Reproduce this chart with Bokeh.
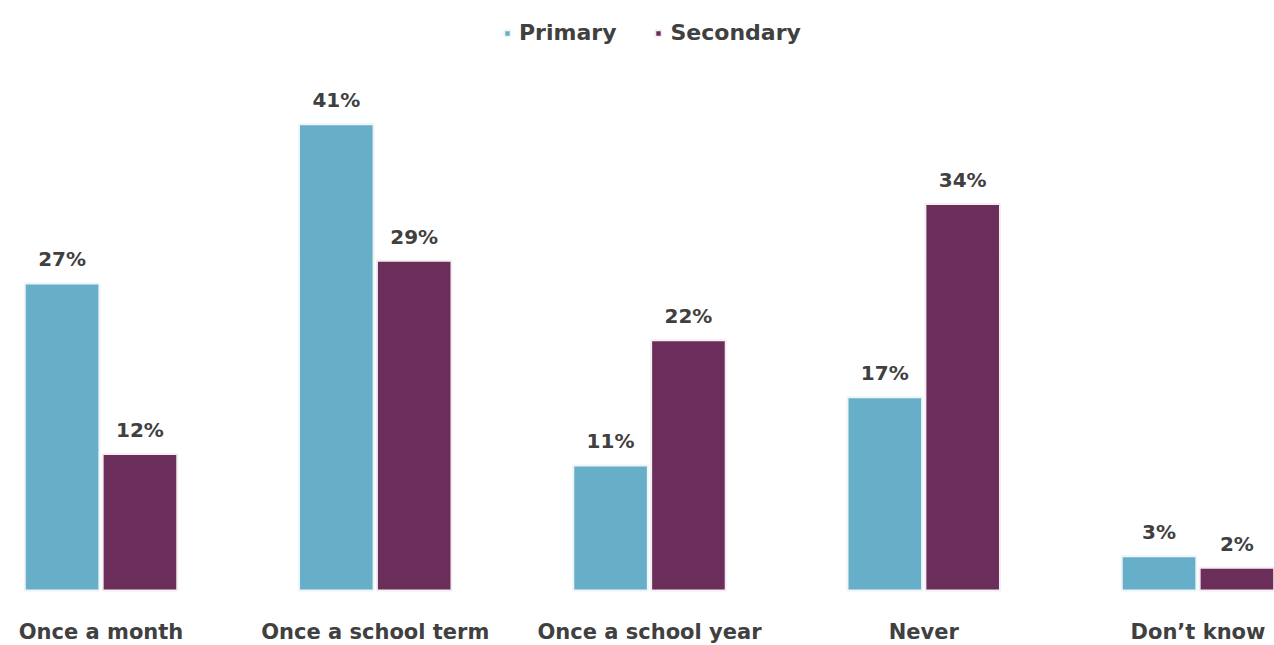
from bokeh.plotting import figure
from bokeh.models import ColumnDataSource, Legend, LegendItem, Range1d
from bokeh.core.properties import value
from bokeh.embed import file_html
from bokeh.resources import INLINE

categories = ["Once a month", "Once a school term", "Once a school year", "Never", "Don\u2019t know"]
primary = [27, 41, 11, 17, 3]
secondary = [12, 29, 22, 34, 2]
series_names = ["Primary", "Secondary"]
colors = ["#67AFC9", "#6B2E5B"]

W, H = 1274, 645
FONT = "DejaVu Sans"
TEXT_COLOR = "#404040"

xs = list(range(len(categories)))
off = 0.142
bw = 0.272

p = figure(width=W, height=H, output_backend="svg", toolbar_location=None,
           x_range=Range1d(-0.3665, 4.279), y_range=Range1d(-4.84, 51.89),
           min_border_left=0, min_border_right=0, min_border_top=0, min_border_bottom=0)
p.outline_line_color = None
p.grid.visible = False
p.axis.visible = False
p.background_fill_color = "white"
p.border_fill_color = "white"

src_p = ColumnDataSource(dict(x=[x - off for x in xs], top=primary,
                              lab=[f"{v}%" for v in primary]))
src_s = ColumnDataSource(dict(x=[x + off for x in xs], top=secondary,
                              lab=[f"{v}%" for v in secondary]))
src_c = ColumnDataSource(dict(x=xs, y=[0] * len(xs), lab=categories))

r1 = p.vbar(x="x", top="top", width=bw, source=src_p, fill_color=colors[0],
            line_color="#eef4f7", line_width=2)
r2 = p.vbar(x="x", top="top", width=bw, source=src_s, fill_color=colors[1],
            line_color="#f3eef2", line_width=2)

for src in (src_p, src_s):
    p.text(x="x", y="top", text="lab", source=src, text_align="center",
           text_baseline="bottom", y_offset=-12, text_font=value(FONT),
           text_font_size="20px", text_font_style="bold", text_color=TEXT_COLOR)

p.text(x="x", y="y", text="lab", source=src_c, text_align="center",
       text_baseline="middle", y_offset=42, text_font=value(FONT),
       text_font_size="21px", text_font_style="bold", text_color=TEXT_COLOR)

legend = Legend(items=[LegendItem(label=series_names[0], renderers=[r1]),
                       LegendItem(label=series_names[1], renderers=[r2])],
                orientation="horizontal", location=(503, 600),
                label_text_font=FONT, label_text_font_size="22px",
                label_text_font_style="bold", label_text_color=TEXT_COLOR,
                glyph_width=8, glyph_height=8, spacing=38, label_standoff=8,
                border_line_color=None, background_fill_alpha=0,
                margin=0, padding=4)
p.add_layout(legend)

open("out.html", "w").write(file_html(p, INLINE))
